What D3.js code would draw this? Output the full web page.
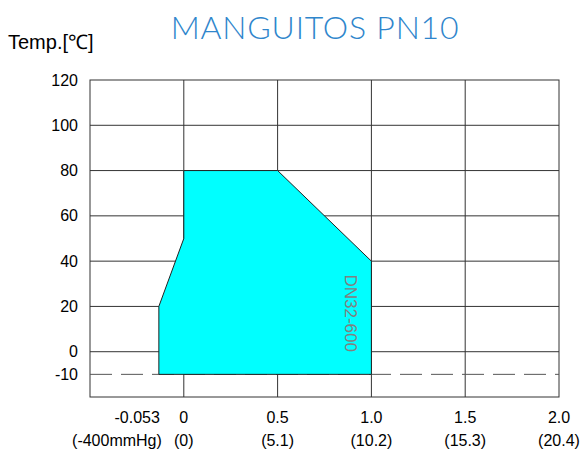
<!DOCTYPE html>
<html>
<head>
<meta charset="utf-8">
<script src="https://cdn.jsdelivr.net/npm/d3@7"></script>
<style>
  body { margin: 0; background: #fff; }
  text { font-family: "Liberation Sans", Arial, sans-serif; }
</style>
</head>
<body>
<div class="chart"></div>
<script>
// pressure (MPa) / temperature (C) envelope
var pressure = [0, 0.5, 1.0, 1.0, -0.133, -0.133, 0];
var temp = [80, 80, 40, -10, -10, 20, 50];

var yTicks = [120, 100, 80, 60, 40, 20, 0, -10];
var xTicks = [-0.133, 0, 0.5, 1.0, 1.5, 2.0];
var xLabels = ["-0.053", "0", "0.5", "1.0", "1.5", "2.0"];
var xSubLabels = ["(-400mmHg)", "(0)", "(5.1)", "(10.2)", "(15.3)", "(20.4)"];

var width = 587, height = 454;

var svg = d3.select(".chart").append("svg")
    .attr("width", width)
    .attr("height", height);

const xScale = d3.scaleLinear().domain([-0.5, 2.0]).range([90, 559]);
const yScale = d3.scaleLinear().domain([-20, 120]).range([397, 80]);

// grid
svg.append("g")
    .selectAll("line")
    .data([100, 80, 60, 40, 20, 0])
    .enter().append("line")
    .attr("x1", xScale(-0.5))
    .attr("x2", xScale(2.0))
    .attr("y1", d => yScale(d))
    .attr("y2", d => yScale(d))
    .attr("stroke", "#333")
    .attr("stroke-width", 1);

svg.append("g")
    .selectAll("line")
    .data([0, 0.5, 1.0, 1.5])
    .enter().append("line")
    .attr("x1", d => xScale(d))
    .attr("x2", d => xScale(d))
    .attr("y1", yScale(120))
    .attr("y2", yScale(-20))
    .attr("stroke", "#333")
    .attr("stroke-width", 1);

svg.append("rect")
    .attr("x", xScale(-0.5))
    .attr("y", yScale(120))
    .attr("width", xScale(2.0) - xScale(-0.5))
    .attr("height", yScale(-20) - yScale(120))
    .attr("fill", "none")
    .attr("stroke", "#333");

// -10 dashed line
svg.append("line")
    .attr("x1", xScale(-0.5))
    .attr("x2", xScale(2.0))
    .attr("y1", yScale(-10))
    .attr("y2", yScale(-10))
    .attr("stroke", "#555")
    .attr("stroke-dasharray", "22,9");

// envelope
var line = d3.line()
    .x((d, i) => xScale(pressure[i]))
    .y(d => yScale(d));

svg.append("path")
    .attr("d", line(temp) + "Z")
    .attr("fill", "#00ffff")
    .attr("stroke", "#222")
    .attr("stroke-width", 1);

svg.append("text")
    .attr("transform", `translate(${xScale(0.86)},${yScale(17)}) rotate(90)`)
    .attr("text-anchor", "middle")
    .attr("font-size", 17)
    .attr("fill", "#808080")
    .text("DN32-600");

// y tick labels
svg.append("g")
    .selectAll("text")
    .data(yTicks)
    .enter().append("text")
    .attr("x", 78)
    .attr("y", d => yScale(d))
    .attr("dy", "0.35em")
    .attr("text-anchor", "end")
    .attr("font-size", 16)
    .attr("fill", "#000")
    .text(d => d);

// x tick labels
svg.append("g")
    .selectAll("text")
    .data(xTicks)
    .enter().append("text")
    .attr("x", (d, i) => i == 0 ? xScale(d) + 1 : xScale(d))
    .attr("y", 423)
    .attr("text-anchor", (d, i) => i == 0 ? "end" : "middle")
    .attr("font-size", 16)
    .text((d, i) => xLabels[i]);

svg.append("g")
    .selectAll("text")
    .data(xTicks)
    .enter().append("text")
    .attr("x", (d, i) => i == 0 ? xScale(d) + 3 : xScale(d))
    .attr("y", 446)
    .attr("text-anchor", (d, i) => i == 0 ? "end" : "middle")
    .attr("font-size", 16)
    .text((d, i) => xSubLabels[i]);

// titles
svg.append("text")
    .attr("x", 315)
    .attr("y", 39)
    .attr("text-anchor", "middle")
    .attr("font-size", 32)
    .attr("font-weight", 300)
    .attr("fill", "#2f86cc")
    .style("font-family", "Lato, 'Open Sans', sans-serif")
    .style("letter-spacing", "0.8px")
    .text("MANGUITOS PN10");

svg.append("text")
    .attr("x", 8)
    .attr("y", 49)
    .attr("font-size", 20)
    .text("Temp.[℃]");
</script>
</body>
</html>
